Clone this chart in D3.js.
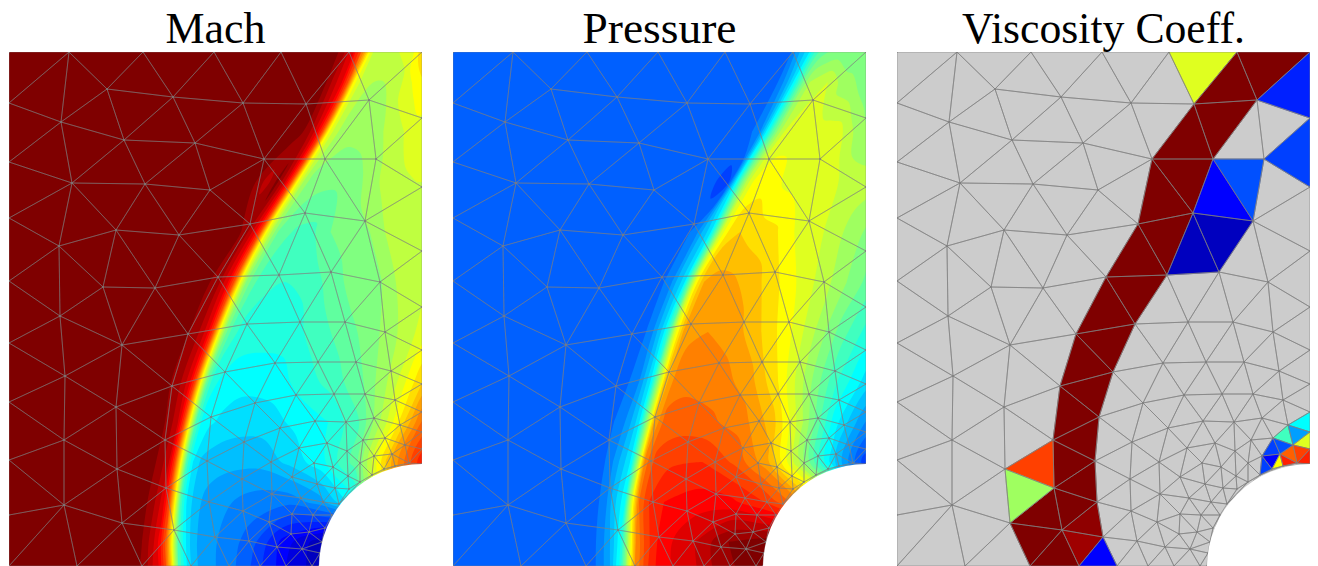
<!DOCTYPE html>
<html>
<head>
<meta charset="utf-8">
<script src="https://cdn.jsdelivr.net/npm/d3@7"></script>
<style>
  html, body { margin: 0; background: #fff; overflow: hidden; }
  text { font-family: "Liberation Serif", serif; }
</style>
</head>
<body>
<svg width="1318" height="566"></svg>
<script>
const titles = ['Mach', 'Pressure', 'Viscosity Coeff.']
const titleWidths = [100, 154, 283]
const panelLeft = [9, 453, 897]

// mesh vertices (pixels inside a 413x514 panel)
const meshNodes = [
  [0,0],[60,0],[134,0],[205,0],[272,0],[340,0],[413,0],
  [0,51],[0,110],[0,166],[0,229],[0,291],[0,350],[0,408],[0,463],[0,514],
  [413,66],[413,135],[413,199],[413,255],[413,298],[413,332],[413,360],[413,380],[413,397],[413,412],
  [68,514],[133,514],[182,514],[220,514],[251,514],[277,514],[303,514],[310,514],
  [98,37],[164,45],[234,51],[297,52],[360,48],
  [52,70],[115,88],[186,91],[255,107],[316,107],[367,107],
  [63,131],[136,132],[201,138],[296,161],[356,169],
  [107,178],[170,183],[241,172],
  [50,194],[94,235],[146,236],[209,225],[270,223],[322,220],[371,230],
  [51,264],[113,293],[179,282],[238,272],[291,270],[336,270],[376,280],
  [56,324],[107,355],[163,334],[216,320],[266,311],[309,310],[347,310],[382,319],
  [202,365],[246,351],[287,343],[325,342],[356,342],[386,348],
  [55,388],[156,388],[108,417],[198,409],[235,390],[271,376],[306,369],[337,370],[365,366],[391,373],
  [262,410],[290,396],[318,391],[354,388],[376,386],[396,393],[338,399],
  [283,425],[305,411],[324,415],[351,411],[365,404],[383,402],[339,424],
  [55,453],[113,471],[157,436],[165,478],[200,450],[206,485],
  [233,427],[234,459],[240,489],[263,442],[260,470],[268,495],
  [292,446],[308,432],[326,436],[314,450],[283,462],[304,463],[282,482],[300,480],[293,497],
  [363,423],[375,417],[386,414],[400,411],[351,430],[340,437],[330,452],[323,463],[316,476],[313,490],[311,501]
]

// colour level of the coloured cells: a point inside the cell, then its level
const viscCells = [
  [303,17,19],[371,16,32],[332,33,32],[324,69,32],[289,89,32],[289,125,32],[264,147,32],[269,185,32],
  [240,207,32],[239,240,32],[209,260,32],[211,291,32],[186,312,32],[194,340,32],[174,362,32],[185,387,32],
  [170,411,32],[185,431,32],[174,454,32],[145,462,32],[137,488,32],[160,502,32],[190,471,31.5],[184,492,31],
  [202,504,4],[395,38,5],[398,103,6],[346,128,6.5],[323,146,4],[325,183,2],[296,201,2],
  [140,414,26],[126,441,17],
  [405,371,12],[388,384,14],[400,382,9],[407,390,19],[403,400,26],[408,407,27],[393,402,25],[385,394,6.5],
  [375,397,6],[374,408,4],[381,411,20],[390,409,27],[368,415,6]
]

// field grid: rows run down the panel, columns follow the shock
const rowY = [-20, 30, 80, 130, 180, 230, 280, 330, 370, 410, 450, 490, 535]
const shockX = [367, 345, 319, 288, 257, 231, 210, 192, 181, 172, 166, 163, 163]
const shockOffsets = [-45, -30, -20, -12, -6, 0, 6, 12, 20, 30, 45]
const wakeFractions = [.15, .3, .45, .6, .75, .9, 1]

// colour levels 0-32 of the jet map, one row per rowY
const machLevels = [
  [32, 32,31.5,29.5,27,24,20,18.5,18,18,19,20, 21,22,23,23,23,22.5,22],
  [32, 32,32,30,28.5,25.5,20,18.5,17.8,17.5,17.5,18, 19,19.5,20,20.5,20.5,20,20],
  [32, 32,32,31,29,26,20,18,17.3,17,16.8,17, 17.5,18,18.5,19,18.8,18.5,18.5],
  [32, 32,30,31.8,29.5,26,20,17.5,16.3,16,15.8,15.8, 16.2,17,18,18.3,18.5,18.5,18.5],
  [32, 32,32,31,29,26,20,17.3,15.5,14.8,14.3,14.2, 15.5,16,16.5,17.8,18,18.3,18.3],
  [32, 32,31.5,30.5,28.5,25.5,20,16.5,15,14,13.7,13.5, 13.8,15,16,16.3,18,18.5,19],
  [32, 32,31.5,30.5,29,26,20,16,14.3,13.3,13,13, 13,14,15,16,17.5,19,19.5],
  [32, 32,31.5,30.5,29,26,20,15,12.8,12.3,12,11.8, 12,13,14,15.5,18,21.5,23],
  [32, 32,32,31,29.5,26,20,14.5,12.2,11.7,11.3,11, 11,11.8,12.5,14.5,19,24.5,26],
  [32, 32,32,31,29.5,26,20,14,11.5,10.3,10,9.8, 9.8,10.8,12.3,15,22,27,28],
  [32, 32,31.8,30.5,29,26,20,14,11.3,10,9.2,8.8, 8,7.8,9,12,20,26,28],
  [32, 32,31.5,30,28,25,20,14.5,12,10,9,8.5, 7,4,2,1,1,1,1],
  [32, 32,31,29.5,28,25,20,14.5,12,10,9,8.5, 6,3.5,1.5,1,1,1,1]
]
const pressureLevels = [
  [7, 7,7,7.5,9,10.5,11.5,13,13.5,14,14,14.5, 15,15,15,15,15,15,15],
  [7, 7,7,7.5,9,11,13.5,16,17.5,18,18.5,17, 16.8,16.5,16,16,16,16,16],
  [7, 7,7,7.5,8.5,11.5,14.5,17,18.5,19,19,19, 19,19,18,17,16.5,16.5,16.5],
  [7, 7,7,6,6.5,11,15,18,19.5,20,20,19.3, 19,19,19,18,18,18,18],
  [7, 7,7,7.5,8.5,10,11,15,19,21,21.5,21, 20.7,19.5,19,18,17,16,16],
  [7, 7,7,7.5,8.5,10,11,15.5,20,22.5,22.8,22.8, 22,20.7,19.3,18,16.5,15,14.5],
  [7, 7,7,7.2,8,9.5,11,14,19,22.5,23.3,23.5, 23,21.5,19.8,17.5,15,13,12.5],
  [7, 7,7,7.2,7.8,8.5,10,11.7,16,22,24,24.2, 24,23,20.5,17,13.5,11,10],
  [7, 7,7,7.5,8,9,10,11.7,16,22.5,24.8,25, 24.7,24,22,17.5,12,8.5,7.5],
  [7, 7,7,7.5,8.5,9.5,10.5,11.7,16.5,24,25.8,26.3, 26.5,25.3,22.8,17.5,11,6,6],
  [7, 7,7,7.5,8.5,10,11,12.5,18.5,24.5,26.5,27.5, 28,27.8,26.5,24,20,10,6],
  [7, 7,7,7.5,8.5,9.5,11,13,17.5,23.5,26,28, 29.5,31.5,32,32,32,32,32],
  [7, 7,7,7.5,8.5,9.5,11,13,17,23,26,28, 29,31,32,32,32,32,32]
]

const panelWidth = 413
const panelHeight = 514
const panelTop = 52
const holeCentre = [413, 515]
const holeRadius = 103
const rightEdge = 433

const svg = d3.select('svg')
const jet = d3.scaleLinear()
  .domain([0, 4, 12, 20, 28, 32])
  .range(['#00007f', '#0000ff', '#00ffff', '#ffff00', '#ff0000', '#7f0000'])
const thresholds = d3.range(0.5, 32, 1)

function columnX(row, col) {
  if (col === 0) return -20
  const s = shockX[row]
  if (col <= shockOffsets.length) return s + shockOffsets[col - 1]
  const start = s + shockOffsets[shockOffsets.length - 1]
  return start + wakeFractions[col - shockOffsets.length - 1] * (rightEdge - start)
}

// contour coordinates -> panel coordinates
function gridToPanel(point) {
  const cols = shockOffsets.length + wakeFractions.length + 1
  const u = Math.max(0, Math.min(cols - 1, point[0] - 0.5))
  const v = Math.max(0, Math.min(rowY.length - 1, point[1] - 0.5))
  const c = Math.min(cols - 2, Math.floor(u))
  const r = Math.min(rowY.length - 2, Math.floor(v))
  const xTop = d3.interpolateNumber(columnX(r, c), columnX(r, c + 1))(u - c)
  const xBottom = d3.interpolateNumber(columnX(r + 1, c), columnX(r + 1, c + 1))(u - c)
  return [xTop + (xBottom - xTop) * (v - r), rowY[r] + (rowY[r + 1] - rowY[r]) * (v - r)]
}

function insideHole(x, y) {
  return Math.hypot(x - holeCentre[0], y - holeCentre[1]) < holeRadius
}

// triangulate the vertices, drop whatever lands in the cylinder
const delaunay = d3.Delaunay.from(meshNodes)
let triangles = []
for (let i = 0; i < delaunay.triangles.length; i += 3) {
  const tri = [delaunay.triangles[i], delaunay.triangles[i + 1], delaunay.triangles[i + 2]].map(n => meshNodes[n])
  if (!insideHole(d3.mean(tri, d => d[0]), d3.mean(tri, d => d[1]))) triangles.push(tri)
}

function drawField(g, levels, x, y) {
  const values = levels.flat()
  const contours = d3.contours()
    .size([levels[0].length, levels.length])
    .thresholds(thresholds)(values)
  const ring = d3.line()
    .x(d => x(d[0]))
    .y(d => y(d[1]))
    .curve(d3.curveCatmullRomClosed.alpha(0.5))
  g.append('rect')
    .attr('x', x(0)).attr('y', y(0))
    .attr('width', panelWidth).attr('height', panelHeight)
    .attr('fill', jet(0))
  contours.forEach(c => {
    if (!c.coordinates.length) return
    const d = c.coordinates
      .flatMap(polygon => polygon.map(r => ring(r.slice(0, -1).map(gridToPanel))))
      .join('')
    g.append('path')
      .attr('d', d)
      .attr('fill', jet(c.value + 0.5))
      .attr('fill-rule', 'evenodd')
  })
}

function drawCells(g, x, y) {
  g.append('rect')
    .attr('x', x(0)).attr('y', y(0))
    .attr('width', panelWidth).attr('height', panelHeight)
    .attr('fill', '#cccccc')
  viscCells.forEach(cell => {
    const tri = triangles.find(t => d3.polygonContains(t, [cell[0], cell[1]]))
    if (!tri) return
    g.append('path')
      .attr('d', d3.line().x(d => x(d[0])).y(d => y(d[1]))(tri) + 'Z')
      .attr('fill', jet(cell[2]))
      .attr('stroke', jet(cell[2]))
      .attr('stroke-width', 0.5)
  })
}

titles.forEach((title, i) => {
  const x = d3.scaleLinear().domain([0, panelWidth]).range([panelLeft[i], panelLeft[i] + panelWidth])
  const y = d3.scaleLinear().domain([0, panelHeight]).range([panelTop, panelTop + panelHeight])

  svg.append('clipPath').attr('id', 'clip' + i)
    .append('rect')
    .attr('x', x(0)).attr('y', y(0))
    .attr('width', panelWidth).attr('height', panelHeight)
  const g = svg.append('g').attr('clip-path', `url(#clip${i})`)

  if (i === 0) drawField(g, machLevels, x, y)
  if (i === 1) drawField(g, pressureLevels, x, y)
  if (i === 2) drawCells(g, x, y)

  g.append('path')
    .attr('d', triangles.map(t => d3.line().x(d => x(d[0])).y(d => y(d[1]))(t) + 'Z').join(''))
    .attr('fill', 'none')
    .attr('stroke', '#808080')
    .attr('stroke-opacity', i === 2 ? 0.9 : 0.65)
    .attr('stroke-width', 0.7)
    .attr('stroke-linejoin', 'round')

  g.selectAll('.node')
    .data(meshNodes)
    .join('circle')
    .attr('cx', d => x(d[0]))
    .attr('cy', d => y(d[1]))
    .attr('r', 0.9)
    .attr('fill', '#7c7c7c')
    .attr('fill-opacity', i === 2 ? 0.5 : 0.8)

  g.append('circle')
    .attr('cx', x(holeCentre[0]))
    .attr('cy', y(holeCentre[1]))
    .attr('r', holeRadius)
    .attr('fill', '#fff')

  svg.append('text')
    .attr('x', x(panelWidth / 2))
    .attr('y', 43)
    .attr('text-anchor', 'middle')
    .attr('font-size', 44)
    .attr('textLength', titleWidths[i])
    .attr('lengthAdjust', 'spacingAndGlyphs')
    .attr('fill', '#000')
    .text(title)
})
</script>
</body>
</html>
